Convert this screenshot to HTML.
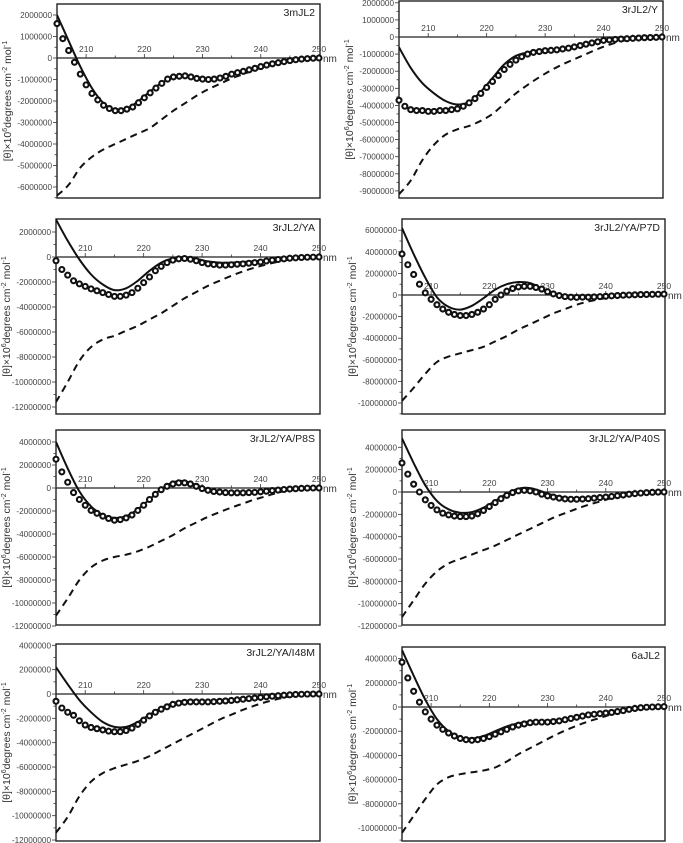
<!DOCTYPE html>
<html><head><meta charset="utf-8"><style>
html,body{margin:0;padding:0;background:#fff;}
svg{display:block;font-family:"Liberation Sans",sans-serif;}
</style></head><body>
<svg id="fig" width="683" height="843" viewBox="0 0 683 843"></svg>
<script>
const circleX=[205,206,207,208,209,210,211,212,213,214,215,216,217,218,219,220,221,222,223,224,225,226,227,228,229,230,231,232,233,234,235,236,237,238,239,240,241,242,243,244,245,246,247,248,249,250];
const lineX=[205,207,209,211,213,215,217,219,221,223,225,227,229,231,233,235,237,239,241,243,245,247,249,250];
const xTickLabels=[210,220,230,240,250];
const panelNames=["3mJL2","3rJL2/Y","3rJL2/YA","3rJL2/YA/P7D","3rJL2/YA/P8S","3rJL2/YA/P40S","3rJL2/YA/I48M","6aJL2"];
const yTicks1=[2,1,0,-1,-2,-3,-4,-5,-6];
const yTicks2=[2,1,0,-1,-2,-3,-4,-5,-6,-7,-8,-9];
const yTicks3=[2,0,-2,-4,-6,-8,-10,-12];
const yTicks4=[6,4,2,0,-2,-4,-6,-8,-10];
const yTicks5=[4,2,0,-2,-4,-6,-8,-10,-12];
const yTicks6=[4,2,0,-2,-4,-6,-8,-10,-12];
const yTicks7=[4,2,0,-2,-4,-6,-8,-10,-12];
const yTicks8=[4,2,0,-2,-4,-6,-8,-10];
// values in millions
const circ1=[1.6,0.9,0.35,-0.2,-0.75,-1.25,-1.65,-1.95,-2.2,-2.35,-2.45,-2.45,-2.38,-2.28,-2.08,-1.85,-1.62,-1.4,-1.18,-0.98,-0.88,-0.85,-0.83,-0.88,-0.95,-0.98,-1.0,-0.98,-0.93,-0.85,-0.75,-0.68,-0.62,-0.55,-0.48,-0.4,-0.33,-0.27,-0.22,-0.17,-0.12,-0.08,-0.05,-0.03,-0.01,0];
const solid1=[2.0,0.8,-0.4,-1.4,-2.1,-2.42,-2.35,-2.0,-1.55,-1.15,-0.9,-0.85,-0.93,-0.97,-0.9,-0.78,-0.62,-0.47,-0.33,-0.2,-0.1,-0.04,0,0];
const dash1=[-6.4,-5.9,-5.1,-4.6,-4.25,-4.0,-3.75,-3.5,-3.25,-2.85,-2.45,-2.1,-1.75,-1.45,-1.2,-0.95,-0.75,-0.55,-0.38,-0.22,-0.1,-0.04,0,0];
const circ2=[-3.7,-4.05,-4.25,-4.3,-4.3,-4.35,-4.35,-4.3,-4.3,-4.25,-4.2,-4.05,-3.85,-3.6,-3.3,-2.95,-2.6,-2.25,-1.9,-1.6,-1.35,-1.15,-1.0,-0.9,-0.85,-0.8,-0.78,-0.75,-0.7,-0.65,-0.58,-0.5,-0.42,-0.35,-0.28,-0.2,-0.17,-0.14,-0.12,-0.1,-0.08,-0.06,-0.04,-0.03,-0.02,0];
const solid2=[-0.6,-1.8,-2.7,-3.3,-3.75,-3.95,-3.8,-3.2,-2.4,-1.6,-1.1,-0.9,-0.82,-0.75,-0.68,-0.58,-0.45,-0.32,-0.2,-0.12,-0.06,-0.03,-0.01,0];
const dash2=[-9.2,-8.4,-7.2,-6.3,-5.7,-5.4,-5.2,-4.9,-4.5,-3.9,-3.3,-2.8,-2.35,-1.95,-1.6,-1.3,-1.0,-0.7,-0.45,-0.25,-0.12,-0.05,0,0];
const circ3=[-0.3,-1.0,-1.45,-1.9,-2.15,-2.35,-2.55,-2.7,-2.85,-3.0,-3.15,-3.15,-3.05,-2.85,-2.5,-2.05,-1.6,-1.1,-0.75,-0.45,-0.25,-0.15,-0.12,-0.18,-0.3,-0.45,-0.55,-0.6,-0.65,-0.65,-0.62,-0.58,-0.55,-0.5,-0.45,-0.4,-0.32,-0.25,-0.2,-0.15,-0.1,-0.07,-0.04,-0.02,-0.01,0];
const solid3=[3.0,1.3,-0.2,-1.4,-2.2,-2.65,-2.5,-1.9,-1.1,-0.45,-0.1,0.0,-0.15,-0.35,-0.45,-0.45,-0.4,-0.33,-0.25,-0.17,-0.1,-0.05,-0.01,0];
const dash3=[-11.6,-10.0,-8.3,-7.2,-6.6,-6.3,-5.9,-5.5,-5.0,-4.5,-3.9,-3.3,-2.8,-2.3,-1.9,-1.5,-1.15,-0.85,-0.6,-0.38,-0.2,-0.08,-0.02,0];
const circ4=[3.8,2.8,1.9,1.0,0.2,-0.4,-0.9,-1.3,-1.6,-1.8,-1.9,-1.9,-1.8,-1.6,-1.3,-0.9,-0.4,0.0,0.35,0.6,0.75,0.8,0.8,0.7,0.55,0.3,0.1,-0.05,-0.15,-0.2,-0.22,-0.2,-0.2,-0.18,-0.15,-0.12,-0.08,-0.05,-0.02,0,0.02,0.04,0.05,0.06,0.07,0.08];
const solid4=[6.2,3.8,1.6,-0.2,-1.1,-1.35,-1.0,-0.3,0.5,1.0,1.2,1.1,0.6,0.1,-0.12,-0.2,-0.18,-0.12,-0.06,-0.02,0.0,0.03,0.05,0.05];
const dash4=[-9.8,-8.6,-7.3,-6.2,-5.7,-5.4,-5.1,-4.8,-4.3,-3.8,-3.2,-2.7,-2.2,-1.7,-1.3,-0.9,-0.6,-0.38,-0.2,-0.1,-0.03,0,0.02,0.02];
const circ5=[2.5,1.4,0.5,-0.4,-1.0,-1.5,-1.95,-2.2,-2.45,-2.65,-2.8,-2.75,-2.6,-2.35,-1.95,-1.5,-1.0,-0.55,-0.15,0.15,0.35,0.45,0.45,0.35,0.15,-0.05,-0.2,-0.3,-0.35,-0.4,-0.42,-0.42,-0.42,-0.4,-0.38,-0.33,-0.28,-0.22,-0.18,-0.13,-0.09,-0.06,-0.03,-0.01,0,0];
const solid5=[4.0,1.7,-0.3,-1.6,-2.35,-2.6,-2.45,-1.85,-1.0,-0.1,0.5,0.6,0.25,-0.15,-0.35,-0.4,-0.4,-0.35,-0.27,-0.18,-0.1,-0.04,0,0];
const dash5=[-11.1,-9.6,-8.0,-6.9,-6.3,-6.0,-5.8,-5.5,-5.1,-4.6,-4.1,-3.5,-3.0,-2.5,-2.1,-1.7,-1.35,-1.0,-0.7,-0.4,-0.2,-0.07,-0.01,0];
const circ6=[2.6,1.6,0.7,0.0,-0.7,-1.2,-1.6,-1.9,-2.05,-2.15,-2.2,-2.2,-2.15,-1.95,-1.65,-1.3,-0.95,-0.6,-0.3,-0.05,0.1,0.15,0.1,0.0,-0.2,-0.35,-0.45,-0.55,-0.62,-0.65,-0.65,-0.63,-0.6,-0.55,-0.5,-0.45,-0.4,-0.33,-0.27,-0.2,-0.15,-0.1,-0.06,-0.03,-0.01,0];
const solid6=[4.8,2.6,0.6,-0.8,-1.55,-1.85,-1.8,-1.4,-0.8,-0.15,0.3,0.35,0.05,-0.3,-0.5,-0.55,-0.52,-0.45,-0.36,-0.25,-0.15,-0.07,-0.02,0];
const dash6=[-11.2,-9.7,-8.2,-7.1,-6.4,-6.0,-5.6,-5.2,-4.8,-4.3,-3.8,-3.3,-2.8,-2.3,-1.9,-1.5,-1.15,-0.85,-0.55,-0.32,-0.15,-0.05,0,0];
const circ7=[-0.6,-1.15,-1.5,-1.75,-2.2,-2.55,-2.75,-2.85,-2.95,-3.05,-3.1,-3.1,-3.0,-2.8,-2.5,-2.15,-1.8,-1.5,-1.25,-1.05,-0.85,-0.75,-0.68,-0.65,-0.65,-0.65,-0.65,-0.63,-0.6,-0.57,-0.53,-0.48,-0.43,-0.38,-0.33,-0.28,-0.23,-0.18,-0.14,-0.1,-0.07,-0.04,-0.02,-0.01,0,0];
const solid7=[2.2,0.8,-0.5,-1.5,-2.3,-2.7,-2.7,-2.3,-1.7,-1.15,-0.75,-0.55,-0.55,-0.58,-0.55,-0.5,-0.42,-0.34,-0.25,-0.16,-0.09,-0.04,-0.01,0];
const dash7=[-11.4,-10.1,-8.4,-7.2,-6.5,-6.1,-5.8,-5.5,-5.1,-4.6,-4.1,-3.6,-3.1,-2.6,-2.1,-1.7,-1.3,-0.95,-0.65,-0.4,-0.2,-0.07,-0.01,0];
const circ8=[3.7,2.4,1.3,0.4,-0.4,-1.0,-1.5,-1.85,-2.15,-2.4,-2.6,-2.7,-2.75,-2.7,-2.6,-2.45,-2.25,-2.05,-1.85,-1.65,-1.5,-1.4,-1.3,-1.25,-1.25,-1.25,-1.2,-1.15,-1.05,-0.95,-0.85,-0.75,-0.65,-0.6,-0.55,-0.5,-0.45,-0.38,-0.3,-0.2,-0.12,-0.06,-0.02,0,0.02,0.03];
const solid8=[4.7,2.6,0.6,-1.0,-2.0,-2.5,-2.6,-2.4,-2.0,-1.6,-1.35,-1.2,-1.15,-1.1,-1.0,-0.85,-0.65,-0.5,-0.38,-0.22,-0.1,-0.03,0.02,0.03];
const dash8=[-10.4,-9.0,-7.6,-6.4,-5.8,-5.55,-5.4,-5.25,-5.0,-4.5,-3.9,-3.4,-2.9,-2.4,-1.95,-1.55,-1.2,-0.9,-0.6,-0.35,-0.15,-0.05,0,0];

const circs=[circ1,circ2,circ3,circ4,circ5,circ6,circ7,circ8];
const solids=[solid1,solid2,solid3,solid4,solid5,solid6,solid7,solid8];
const dashes=[dash1,dash2,dash3,dash4,dash5,dash6,dash7,dash8];
const yTicksAll=[yTicks1,yTicks2,yTicks3,yTicks4,yTicks5,yTicks6,yTicks7,yTicks8];
// layout geometry (pixels)
const geo=[
 {L:57,R:320,T:4,B:198,Z:58,K:21.5},
 {L:399,R:663,T:1,B:198,Z:37,K:17.1},
 {L:56,R:320,T:219,B:414,Z:257,K:12.5},
 {L:402,R:665,T:219,B:414,Z:295,K:10.8},
 {L:56,R:320,T:430,B:625,Z:488,K:11.5},
 {L:402,R:665,T:430,B:625,Z:492,K:11.17},
 {L:56,R:320,T:644,B:841,Z:694,K:12.17},
 {L:402,R:665,T:647,B:841,Z:707,K:12.1}
];
const NS="http://www.w3.org/2000/svg";
const svg=document.getElementById('fig');
function mk(tag,attrs,parent){const e=document.createElementNS(NS,tag);for(const k in attrs)e.setAttribute(k,attrs[k]);(parent||svg).appendChild(e);return e;}
function smoothPath(pts){let d="M"+pts[0][0].toFixed(1)+","+pts[0][1].toFixed(1);
 for(let i=0;i<pts.length-1;i++){const p0=pts[Math.max(0,i-1)],p1=pts[i],p2=pts[i+1],p3=pts[Math.min(pts.length-1,i+2)];
  const c1x=p1[0]+(p2[0]-p0[0])/6,c1y=p1[1]+(p2[1]-p0[1])/6,c2x=p2[0]-(p3[0]-p1[0])/6,c2y=p2[1]-(p3[1]-p1[1])/6;
  d+=" C"+c1x.toFixed(1)+","+c1y.toFixed(1)+" "+c2x.toFixed(1)+","+c2y.toFixed(1)+" "+p2[0].toFixed(1)+","+p2[1].toFixed(1);}
 return d;}
for(let p=0;p<8;p++){
 const g=geo[p];
 const xs=v=>g.L+(v-205)/(250-205)*(g.R-1-g.L);
 const ys=v=>g.Z-v*g.K;
 const grp=mk('g',{});
 
 
 const clipId='clip'+p;
 const cp=mk('clipPath',{id:clipId},grp);mk('rect',{x:g.L,y:g.T,width:g.R-g.L,height:g.B-g.T},cp);
 const box=mk('rect',{x:g.L,y:g.T,width:g.R-g.L,height:g.B-g.T,fill:'none',stroke:'#222','stroke-width':1.4},grp);
 
 
 const zl=mk('line',{x1:g.L,x2:g.R,y1:g.Z,y2:g.Z,stroke:'#222','stroke-width':1.3},grp);
 
 
 for(let v=205;v<=250;v+=1){ if(v%5!==0)continue;
  const major=v%10===0;
  mk('line',{x1:xs(v),x2:xs(v),y1:g.Z,y2:g.Z-(major?4:2.5),stroke:'#333','stroke-width':0.8},grp);}
 xTickLabels.forEach(v=>{const t=mk('text',{x:xs(v),y:g.Z-6,'font-size':8.5,fill:'#444','text-anchor':'middle'},grp);t.textContent=v;
  
  });
 const nm=mk('text',{x:g.R+3,y:g.Z+4,'font-size':10,fill:'#333'},grp);nm.textContent='nm';
 
 
 const yt=yTicksAll[p];const step=yt[0]-yt[1];
 yt.forEach(v=>{const y=ys(v);
  mk('line',{x1:g.L-4,x2:g.L,y1:y,y2:y,stroke:'#333','stroke-width':0.8},grp);
  const yh=ys(v-step/2); if(yh<g.B) mk('line',{x1:g.L-2.5,x2:g.L,y1:yh,y2:yh,stroke:'#333','stroke-width':0.8},grp);
  const t=mk('text',{x:g.L-5,y:y+3,'font-size':8.2,fill:'#444','text-anchor':'end'},grp);t.textContent=String(Math.round(v*1000000));
  
  });
 const cx=g.L-46,cy=(g.T+g.B)/2;
 const yl=mk('text',{x:cx,y:cy,'font-size':10.5,fill:'#333','text-anchor':'middle',transform:'rotate(-90 '+cx+' '+cy+')'},grp);
 yl.innerHTML='[θ]×10<tspan dy="-4" font-size="7">6</tspan><tspan dy="4">degrees cm</tspan><tspan dy="-4" font-size="7">-2</tspan><tspan dy="4"> mol</tspan><tspan dy="-4" font-size="7">-1</tspan>';
 
 
 const tt=mk('text',{x:g.R-5,y:g.T+12,'font-size':10.5,fill:'#222','text-anchor':'end'},grp);tt.textContent=panelNames[p];
 
 
 const cg=mk('g',{'clip-path':'url(#'+clipId+')'},grp);
 const dp=mk('path',{d:smoothPath(lineX.map((x,i)=>[xs(x),ys(dashes[p][i])])),fill:'none',stroke:'#111','stroke-width':2,'stroke-dasharray':'7,5'},cg);
 
 
 const sp=mk('path',{d:smoothPath(lineX.map((x,i)=>[xs(x),ys(solids[p][i])])),fill:'none',stroke:'#111','stroke-width':2},cg);
 
 
 circleX.forEach((x,i)=>{const c=mk('circle',{cx:xs(x),cy:ys(circs[p][i]),r:2.5,fill:'#fff',stroke:'#111','stroke-width':2.1},grp);
  
  });
}
</script>
</body></html>
